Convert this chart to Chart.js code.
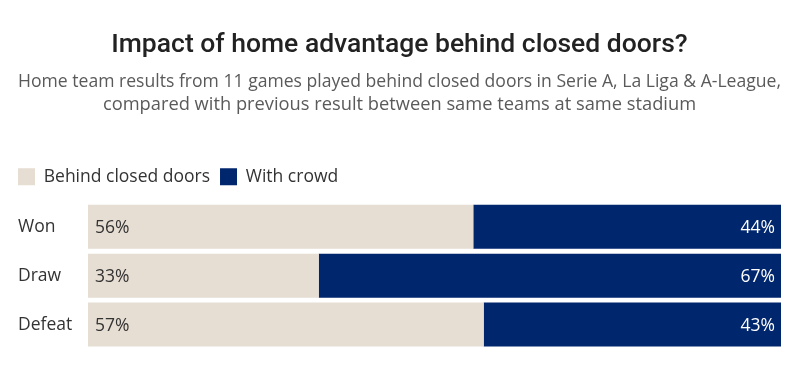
<!DOCTYPE html>
<html>
<head>
<meta charset="utf-8">
<script src="https://cdn.jsdelivr.net/npm/chart.js@4.4.0/dist/chart.umd.min.js"></script>
<style>
  html, body { margin: 0; padding: 0; background: #fff; }
  #wrap { width: 805px; height: 389px; position: relative; }
</style>
</head>
<body>
<div id="wrap"><canvas id="chart"></canvas></div>
<script>
// data
const results = ['Won', 'Draw', 'Defeat'];
const closedDoors = [55.6, 33.3, 57.1];
const withCrowd = [44.4, 66.7, 42.9];
const seriesNames = ['Behind closed doors', 'With crowd'];

const LIGHT = '#e6ddd3';
const NAVY = '#00266e';
const TITLE_FONT = 'Roboto, "Noto Sans", sans-serif';
const FONT = '"Open Sans", "Noto Sans", sans-serif';

// draws the percentage labels inside the bars
const barLabels = {
    id: 'barLabels',
    afterDatasetsDraw(chart) {
        const ctx = chart.ctx;
        ctx.save();
        ctx.font = '17.5px ' + FONT;
        ctx.textBaseline = 'middle';
        chart.data.datasets.forEach((ds, i) => {
            const meta = chart.getDatasetMeta(i);
            meta.data.forEach((bar, j) => {
                const txt = Math.round(ds.data[j]) + '%';
                if (i === 0) {
                    ctx.fillStyle = '#333';
                    ctx.textAlign = 'left';
                    ctx.fillText(txt, bar.base + 7, bar.y + 1);
                } else {
                    ctx.fillStyle = '#fff';
                    ctx.textAlign = 'right';
                    ctx.fillText(txt, bar.x - 6, bar.y + 1);
                }
            });
        });
        ctx.restore();
    }
};

// legend tweaks: a bit more room under it, and pulled to the left edge
const legendTweak = {
    id: 'legendTweak',
    afterInit(chart) {
        const lg = chart.legend;
        const fit = lg.fit;
        lg.fit = function () {
            fit.call(this);
            this.height += 7;
        };
    },
    afterLayout(chart) {
        chart.legend.left -= 10;
        chart.legend.right -= 10;
    }
};

new Chart(document.getElementById('chart'), {
    type: 'bar',
    data: {
        labels: results,
        datasets: [
            { label: seriesNames[0], data: closedDoors, backgroundColor: LIGHT },
            { label: seriesNames[1], data: withCrowd, backgroundColor: NAVY }
        ]
    },
    options: {
        indexAxis: 'y',
        responsive: true,
        maintainAspectRatio: false,
        animation: false,
        layout: { padding: { left: 18, right: 24, bottom: 40 } },
        categoryPercentage: 0.9,
        barPercentage: 1,
        scales: {
            x: { stacked: true, min: 0, max: 100, display: false },
            y: {
                stacked: true,
                grid: { display: false },
                border: { display: false },
                ticks: {
                    crossAlign: 'far',
                    color: '#333',
                    font: { family: FONT, size: 17.5 },
                    padding: 0
                },
                afterFit(scale) { scale.width = 70; }
            }
        },
        plugins: {
            title: {
                display: true,
                text: 'Impact of home advantage behind closed doors?',
                color: '#222',
                font: { family: TITLE_FONT, size: 26.5, weight: '500' },
                padding: { top: 29, bottom: 8 }
            },
            subtitle: {
                display: true,
                text: ['Home team results from 11 games played behind closed doors in Serie A, La Liga & A-League,',
                       'compared with previous result between same teams at same stadium'],
                color: '#5a5a5a',
                font: { family: FONT, size: 18.3, lineHeight: 1.26 },
                padding: { top: 1, bottom: 42 }
            },
            legend: {
                align: 'start',
                labels: {
                    boxWidth: 17,
                    boxHeight: 17,
                    color: '#333',
                    font: { family: FONT, size: 17.5 },
                    padding: 10
                }
            },
            tooltip: { enabled: false }
        }
    },
    plugins: [barLabels, legendTweak]
});
</script>
</body>
</html>
